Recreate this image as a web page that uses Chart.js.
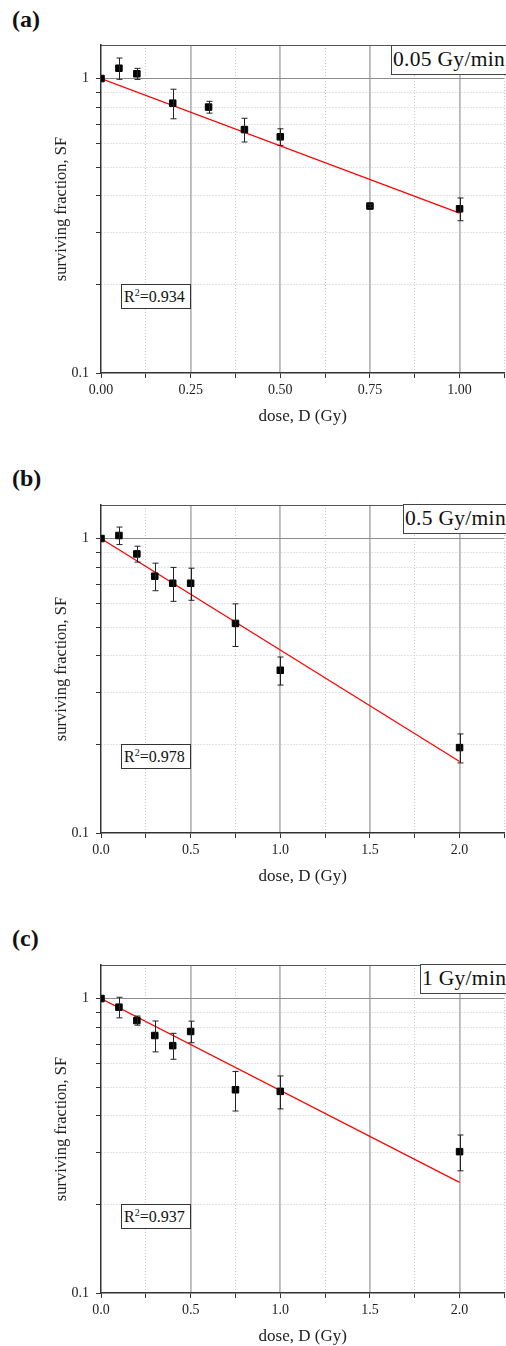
<!DOCTYPE html>
<html>
<head>
<meta charset="utf-8">
<title>surviving fraction vs dose</title>
<script src="https://cdn.jsdelivr.net/npm/chart.js@4.4.0/dist/chart.umd.min.js"></script>
<style>
  html, body { margin: 0; padding: 0; background: #fff; overflow: hidden; }
  body { position: relative; width: 506px; height: 1346px; font-family: "Liberation Serif", "Times New Roman", serif; color: #111; }
  canvas { position: absolute; left: 0; }
  .panel { position: absolute; left: 12px; font-weight: bold; font-size: 24px; line-height: 24px; }
  .rate { position: absolute; width: 150px; height: 30px; box-sizing: border-box; border: 1px solid #444; background: #fff;
          font-size: 21.5px; letter-spacing: 0.3px; line-height: 27px; padding-left: 1px; white-space: nowrap; }
  .r2 { position: absolute; left: 121px; width: 70px; height: 25px; box-sizing: border-box; border: 1px solid #333;
        background: #fff; font-size: 16px; line-height: 23px; padding-left: 2px; white-space: nowrap; }
  .r2 sup { font-size: 10px; line-height: 0; vertical-align: 6px; }
</style>
</head>
<body>

<div class="panel" style="top:7px">(a)</div>
<div class="panel" style="top:466px">(b)</div>
<div class="panel" style="top:926px">(c)</div>

<canvas id="chartA" width="510" height="433" style="top:0px"></canvas>
<canvas id="chartB" width="510" height="453" style="top:440px"></canvas>
<canvas id="chartC" width="510" height="453" style="top:900px"></canvas>

<div class="rate" style="left:391px; top:45px">0.05 Gy/min</div>
<div class="rate" style="left:403px; top:504px">0.5 Gy/min</div>
<div class="rate" style="left:420px; top:964px">1 Gy/min</div>

<div class="r2" style="top:284px">R<sup>2</sup>=0.934</div>
<div class="r2" style="top:744px">R<sup>2</sup>=0.978</div>
<div class="r2" style="top:1204px">R<sup>2</sup>=0.937</div>

<script>
// (a) 0.05 Gy/min
const doseA = [0, 0.05, 0.1, 0.2, 0.3, 0.4, 0.5, 0.75, 1.0];
const sfA = [1.0, 1.084, 1.038, 0.825, 0.80, 0.671, 0.634, 0.369, 0.361];
const errA = [0, 0.09, 0.045, 0.095, 0.037, 0.062, 0.041, 0.004, 0.032];
const fitDoseA = [0, 1.0];
const fitSfA = [1.0, 0.349];

// (b) 0.5 Gy/min
const doseB = [0, 0.1, 0.2, 0.3, 0.4, 0.5, 0.75, 1.0, 2.0];
const sfB = [1.0, 1.024, 0.887, 0.745, 0.705, 0.705, 0.515, 0.357, 0.195];
const errB = [0, 0.07, 0.055, 0.08, 0.093, 0.088, 0.085, 0.039, 0.022];
const fitDoseB = [0, 2.0];
const fitSfB = [1.0, 0.175];

// (c) 1 Gy/min
const doseC = [0, 0.1, 0.2, 0.3, 0.4, 0.5, 0.75, 1.0, 2.0];
const sfC = [1.0, 0.935, 0.842, 0.749, 0.692, 0.773, 0.49, 0.484, 0.302];
const errC = [0, 0.075, 0.03, 0.09, 0.07, 0.065, 0.075, 0.062, 0.042];
const fitDoseC = [0, 2.0];
const fitSfC = [1.0, 0.2375];

// ticks
const xMajorA = [0, 0.25, 0.5, 0.75, 1.0];
const xMinorA = [0.125, 0.375, 0.625, 0.875, 1.125];
const xMajorBC = [0, 0.5, 1.0, 1.5, 2.0];
const xMinorBC = [0.25, 0.75, 1.25, 1.75, 2.25];
const yMajor = [0.1, 1];
const yMinor = [0.2, 0.3, 0.4, 0.5, 0.6, 0.7, 0.8, 0.9];

const serif = '"Liberation Serif", "Times New Roman", serif';
const clear = 'rgba(0,0,0,0)';

const errorBars = {
  id: 'errorBars',
  afterDatasetsDraw(chart) {
    const ds = chart.data.datasets[0];
    const xs = chart.scales.x, ys = chart.scales.y;
    const ctx = chart.ctx;
    ctx.save();
    ctx.strokeStyle = '#222';
    ctx.lineWidth = 1;
    ds.data.forEach((p, i) => {
      const e = ds.errors[i];
      if (!e) return;
      const px = Math.round(xs.getPixelForValue(p.x)) + 0.5;
      const top = ys.getPixelForValue(p.y + e);
      const bot = ys.getPixelForValue(p.y - e);
      ctx.beginPath();
      ctx.moveTo(px, top); ctx.lineTo(px, bot);
      ctx.moveTo(px - 3, top); ctx.lineTo(px + 3, top);
      ctx.moveTo(px - 3, bot); ctx.lineTo(px + 3, bot);
      ctx.stroke();
    });
    ctx.restore();
  }
};

function makeChart(id, dose, sf, err, fitDose, fitSf, xMax, xMajor, xMinor, digits, padTop) {
  const xAll = xMajor.concat(xMinor).sort((a, b) => a - b);
  const yAll = yMajor.concat(yMinor).sort((a, b) => a - b);
  new Chart(document.getElementById(id), {
    type: 'scatter',
    data: {
      datasets: [
        {
          data: dose.map((d, i) => ({x: d, y: sf[i]})),
          errors: err,
          pointStyle: 'rect',
          pointRadius: 4.6,
          backgroundColor: '#000',
          borderColor: '#000',
          borderWidth: 1,
          clip: 0
        },
        {
          data: fitDose.map((d, i) => ({x: d, y: fitSf[i]})),
          showLine: true,
          pointRadius: 0,
          borderColor: '#ff0000',
          borderWidth: 1.2
        }
      ]
    },
    options: {
      responsive: false,
      animation: false,
      layout: { padding: { left: 48, top: padTop, right: 0, bottom: 0 } },
      plugins: { legend: { display: false }, tooltip: { enabled: false } },
      scales: {
        x: {
          type: 'linear', position: 'bottom', min: 0, max: xMax,
          afterBuildTicks: s => { s.ticks = xAll.map(v => ({value: v})); },
          afterFit: s => { s.height = 60; },
          ticks: {
            autoSkip: false, maxRotation: 0, padding: 4, color: '#222',
            font: { family: serif, size: 14 },
            callback: v => xMajor.includes(v) ? v.toFixed(digits) : ''
          },
          grid: {
            color: c => (c.tick && xMinor.includes(c.tick.value)) ? '#c8c8c8' : clear,
            lineWidth: 1, tickLength: 5, tickColor: '#333', tickWidth: 1
          },
          border: { color: '#333', width: 1.5, dash: [1, 2] },
          title: {
            display: true, text: 'dose, D (Gy)', color: '#222',
            font: { family: serif, size: 17 }, padding: { top: 4, bottom: 6 }
          }
        },
        x2: {
          type: 'linear', position: 'top', min: 0, max: xMax,
          afterBuildTicks: s => { s.ticks = xMajor.map(v => ({value: v})); },
          afterFit: s => { s.height = 0; },
          ticks: { display: false },
          grid: {
            color: c => (c.tick && c.tick.value > 0) ? '#b8b8b8' : clear,
            lineWidth: 1.8, drawTicks: false
          },
          border: { color: '#555', width: 1 }
        },
        y: {
          type: 'logarithmic', position: 'left', min: 0.1, max: 1.3,
          afterBuildTicks: s => { s.ticks = yAll.map(v => ({value: v})); },
          afterFit: s => { s.width = 53; },
          ticks: {
            autoSkip: false, padding: 7, color: '#222',
            font: { family: serif, size: 14 },
            callback: v => yMajor.includes(v) ? String(v) : ''
          },
          grid: {
            color: c => (c.tick && yMinor.includes(c.tick.value)) ? '#c8c8c8' : clear,
            lineWidth: 1, tickLength: 5, tickColor: '#333', tickWidth: 1
          },
          border: { color: '#333', width: 1.5, dash: [1, 2] },
          title: {
            display: true, text: 'surviving fraction, SF', color: '#222',
            font: { family: serif, size: 16.5 }, padding: { top: 4, bottom: 4 }
          }
        },
        y2: {
          type: 'logarithmic', position: 'right', min: 0.1, max: 1.3,
          afterBuildTicks: s => { s.ticks = [{value: 1}]; },
          afterFit: s => { s.width = 0; },
          ticks: { display: false },
          grid: { color: '#8c8c8c', lineWidth: 1, drawTicks: false },
          border: { display: false }
        }
      }
    },
    plugins: [errorBars]
  });
}

makeChart('chartA', doseA, sfA, errA, fitDoseA, fitSfA, 1.125, xMajorA, xMinorA, 2, 45);
makeChart('chartB', doseB, sfB, errB, fitDoseB, fitSfB, 2.25, xMajorBC, xMinorBC, 1, 65);
makeChart('chartC', doseC, sfC, errC, fitDoseC, fitSfC, 2.25, xMajorBC, xMinorBC, 1, 65);
</script>
</body>
</html>
